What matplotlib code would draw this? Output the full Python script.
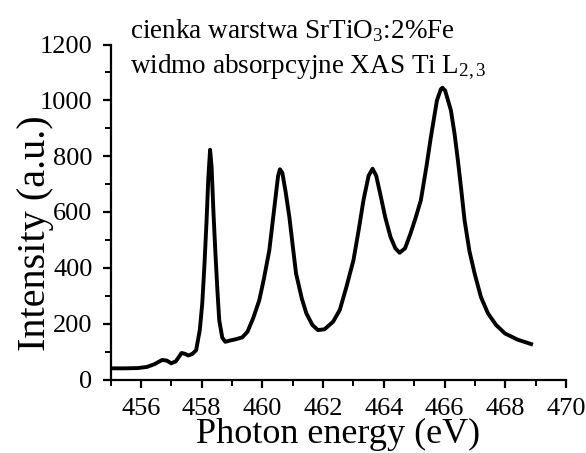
import matplotlib
matplotlib.use("Agg")
import matplotlib.pyplot as plt
from matplotlib.ticker import MultipleLocator

# Ti L2,3 XAS spectrum values
energy = [455.0, 455.5, 455.9, 456.2, 456.45, 456.7, 456.85, 457.0, 457.15,
          457.34, 457.45, 457.56, 457.7, 457.82, 457.94, 458.02, 458.09,
          458.16, 458.22, 458.28, 458.33, 458.39, 458.45, 458.52, 458.58,
          458.68, 458.78, 458.95, 459.12, 459.34, 459.51, 459.7, 459.9,
          460.05, 460.23, 460.4, 460.52, 460.58, 460.66, 460.77, 460.89,
          461.0, 461.11, 461.3, 461.45, 461.65, 461.83, 462.05, 462.33,
          462.55, 462.77, 463.0, 463.18, 463.33, 463.5, 463.63, 463.75,
          463.88, 464.05, 464.22, 464.38, 464.52, 464.7, 464.88, 465.05,
          465.22, 465.4, 465.55, 465.75, 465.88, 465.93, 466.02, 466.21,
          466.33, 466.44, 466.55, 466.66, 466.82, 466.99, 467.2, 467.43,
          467.7, 467.99, 468.4, 468.85]
intensity = [40, 40, 41, 45, 55, 70, 68, 58, 65,
             95, 92, 86, 92, 105, 177, 270, 403,
             560, 720, 823, 760, 600, 463, 320, 213,
             150, 135, 140, 144, 151, 171, 220, 284,
             360, 463, 620, 730, 753, 740, 670, 582,
             480, 380, 290, 237, 195, 177, 180, 207,
             249, 332, 427, 540, 642, 730, 755, 730,
             666, 580, 511, 470, 454, 470, 523, 580,
             642, 760, 868, 1000, 1040, 1045, 1035, 964,
             880, 785, 680, 570, 460, 380, 295, 237,
             195, 165, 143, 127]

plt.rcParams["font.family"] = ["Liberation Serif", "DejaVu Serif"]
plt.rcParams["mathtext.fontset"] = "custom"
plt.rcParams["mathtext.rm"] = "Liberation Serif"
plt.rcParams["mathtext.it"] = "Liberation Serif:italic"

fig = plt.figure(figsize=(5.86, 4.53), dpi=100)
ax = fig.add_axes([110.5 / 586, 1 - 379.5 / 453, 455.5 / 586, 335 / 453])

ax.plot(energy, intensity, color="black", lw=2.8, solid_joinstyle="round")

ax.set_xlim(455, 470)
ax.set_ylim(0, 1200)
ax.xaxis.set_major_locator(MultipleLocator(2))
ax.xaxis.set_minor_locator(MultipleLocator(1))
ax.yaxis.set_major_locator(MultipleLocator(200))
ax.yaxis.set_minor_locator(MultipleLocator(100))

for side in ["top", "right"]:
    ax.spines[side].set_visible(False)
for side in ["left", "bottom"]:
    ax.spines[side].set_linewidth(1.6)

ax.tick_params(which="major", direction="out", length=6, width=1.6,
               labelsize=19, pad=7)
ax.tick_params(which="minor", direction="out", length=4, width=1.4)

ax.set_xlabel("Photon energy (eV)", fontsize=26)
ax.xaxis.label.set_va("baseline")
ax.xaxis.set_label_coords(0.5, (379.5 - 443) / 335)

ax.set_ylabel("Intensity (a.u.)", fontsize=29)
ax.yaxis.label.set_va("baseline")
ax.yaxis.set_label_coords((45 - 110.5) / 455.5, (379.5 - 233) / 335)

fig.text(130 / 586, 1 - 38 / 453, "cienka warstwa SrTiO$_3$:2%Fe",
         fontsize=19.5, va="baseline", ha="left")
fig.text(130 / 586, 1 - 73 / 453, "widmo absorpcyjne XAS Ti L$_{2,3}$",
         fontsize=19.5, va="baseline", ha="left")

fig.savefig("out.png", dpi=100)
